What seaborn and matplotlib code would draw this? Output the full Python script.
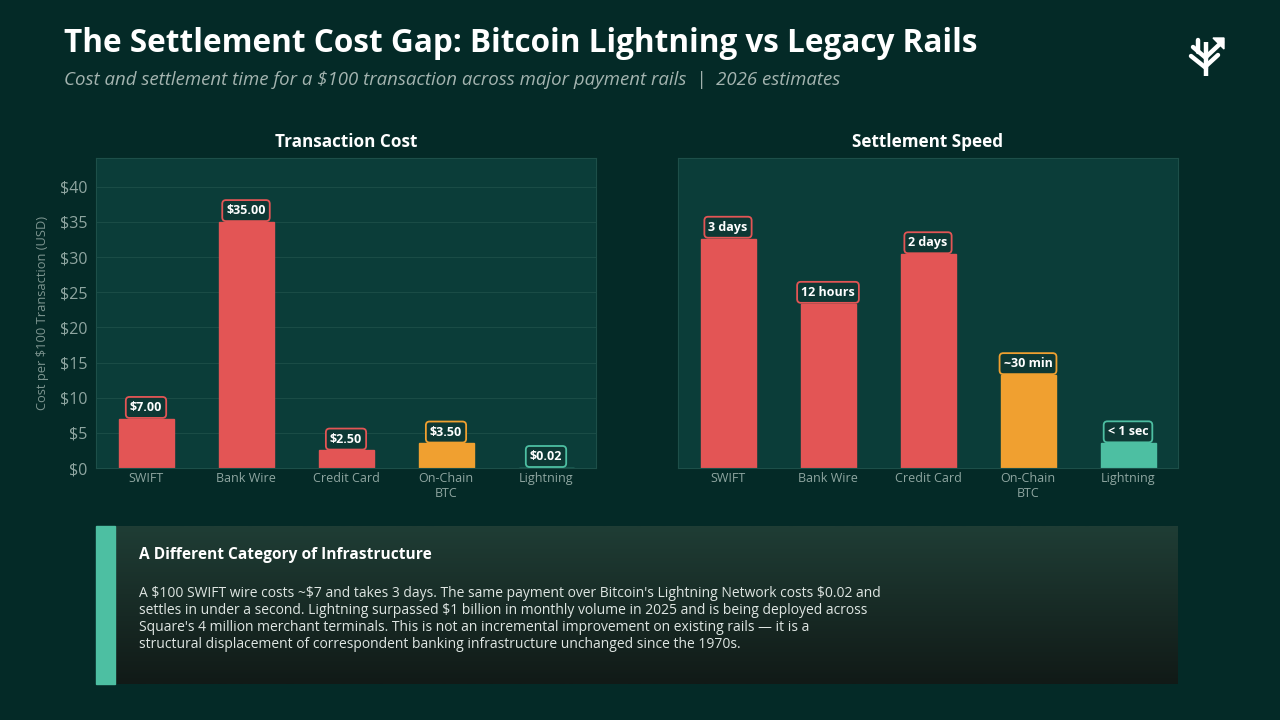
import numpy as np
import pandas as pd
import matplotlib.pyplot as plt
import seaborn as sns

# Chart data
rails = ['SWIFT', 'Bank Wire', 'Credit Card', 'On-Chain\nBTC', 'Lightning']
cost_usd = [7.00, 35.00, 2.50, 3.50, 0.02]
cost_labels = ['$7.00', '$35.00', '$2.50', '$3.50', '$0.02']
speed_score = [74, 53, 69, 30, 8]  # relative bar height
speed_labels = ['3 days', '12 hours', '2 days', '~30 min', '< 1 sec']
bar_colors = ['#e35555', '#e35555', '#e35555', '#f0a030', '#4dbfa2']

BG = '#042a27'
PANEL = '#0b3d39'
GRID = '#1a4c46'
TICK = '#8fa6a1'

sns.set_theme(style='dark')
plt.rcParams['font.family'] = ['Open Sans', 'DejaVu Sans']

fig = plt.figure(figsize=(12.8, 7.2), dpi=100, facecolor=BG)

df_cost = pd.DataFrame({'rail': rails, 'value': cost_usd})
df_speed = pd.DataFrame({'rail': rails, 'value': speed_score})


def draw_panel(ax, df, labels, title, ymax):
    ax.set_facecolor(PANEL)
    sns.barplot(data=df, x='rail', y='value', hue='rail', palette=bar_colors,
                legend=False, width=0.55, ax=ax, saturation=1)
    for patch, c in zip(ax.patches, bar_colors):
        patch.set_edgecolor(c)
        patch.set_linewidth(1)
    ax.set_xlim(-0.5, 4.5)
    ax.set_ylim(0, ymax)
    ax.set_xlabel('')
    ax.set_ylabel('')
    for s in ax.spines.values():
        s.set_visible(True)
        s.set_color('#1d4f49')
        s.set_linewidth(0.8)
    ax.tick_params(axis='x', colors=TICK, labelsize=9, length=0, pad=3)
    ax.set_title(title, color='white', fontsize=12.3, fontweight='bold', pad=8)
    for i, (v, lab) in enumerate(zip(df['value'], labels)):
        ax.annotate(lab, (i, v), xytext=(0, 3.5), textcoords='offset points',
                    ha='center', va='bottom', color='white', fontsize=9,
                    fontweight='bold', zorder=5,
                    bbox=dict(boxstyle='round,pad=0.32,rounding_size=0.3',
                              fc='#0d3834', ec=bar_colors[i], lw=1.3))


ax1 = fig.add_axes([96 / 1280, 1 - 468 / 720, 500 / 1280, 310 / 720])
draw_panel(ax1, df_cost, cost_labels, 'Transaction Cost', 44.1)
ax1.set_yticks(range(0, 45, 5))
ax1.set_yticklabels([f'${t}' for t in range(0, 45, 5)])
ax1.tick_params(axis='y', colors=TICK, labelsize=11.5, length=0, pad=6)
ax1.yaxis.grid(True, color=GRID, lw=0.8)
ax1.set_axisbelow(True)
ax1.set_ylabel('Cost per $100 Transaction (USD)', color='#7d9590', fontsize=9.3, labelpad=8)

ax2 = fig.add_axes([678 / 1280, 1 - 468 / 720, 500 / 1280, 310 / 720])
draw_panel(ax2, df_speed, speed_labels, 'Settlement Speed', 100)
ax2.set_yticks([])
ax2.grid(False)

# overlay in pixel coordinates for title, logo and text panel
ov = fig.add_axes([0, 0, 1, 1], facecolor='none')
ov.set_xlim(0, 1280)
ov.set_ylim(720, 0)
ov.axis('off')

ov.text(64, 44, 'The Settlement Cost Gap: Bitcoin Lightning vs Legacy Rails',
        color='white', fontsize=22.7, fontweight='bold', va='center', ha='left')
ov.text(64, 80, 'Cost and settlement time for a $100 transaction across major payment rails  |  2026 estimates',
        color='#a4b4b0', fontsize=13.4, style='italic', va='center', ha='left')

# logo: small tree with an arrow
lw = 3.2
ov.plot([1206, 1206], [76, 42], color='white', lw=lw, solid_capstyle='butt')
ov.plot([1191, 1206], [56, 68], color='white', lw=lw)
ov.plot([1193, 1206], [47, 58], color='white', lw=lw)
ov.plot([1198, 1198], [40, 52], color='white', lw=lw)
ov.plot([1206, 1218], [66, 55], color='white', lw=lw)
ov.plot([1206, 1222], [57, 42], color='white', lw=lw)
ov.fill([1224, 1213, 1224], [38, 38, 49], color='white')

# bottom text panel with a vertical gradient
grad = np.linspace(0, 1, 100).reshape(-1, 1)
cmap = sns.blend_palette(['#1f3d35', '#111a17'], as_cmap=True)
ov.imshow(grad, extent=(96, 1178, 684, 526), cmap=cmap, aspect='auto', zorder=1)
ov.add_patch(plt.Rectangle((96, 526), 19, 158, color='#4dbfa2', zorder=2))
ov.set_xlim(0, 1280)
ov.set_ylim(720, 0)

ov.text(139, 555, 'A Different Category of Infrastructure', color='white',
        fontsize=11.2, fontweight='bold', va='center', ha='left', zorder=3)
body = ("A $100 SWIFT wire costs ~$7 and takes 3 days. The same payment over Bitcoin's Lightning Network costs $0.02 and\n"
        "settles in under a second. Lightning surpassed $1 billion in monthly volume in 2025 and is being deployed across\n"
        "Square's 4 million merchant terminals. This is not an incremental improvement on existing rails \u2014 it is a\n"
        "structural displacement of correspondent banking infrastructure unchanged since the 1970s.")
ov.text(139, 586, body, color='#dfe6e3', fontsize=10, va='top', ha='left',
        linespacing=1.18, zorder=3)

fig.savefig('out.png', dpi=100, facecolor=BG)
